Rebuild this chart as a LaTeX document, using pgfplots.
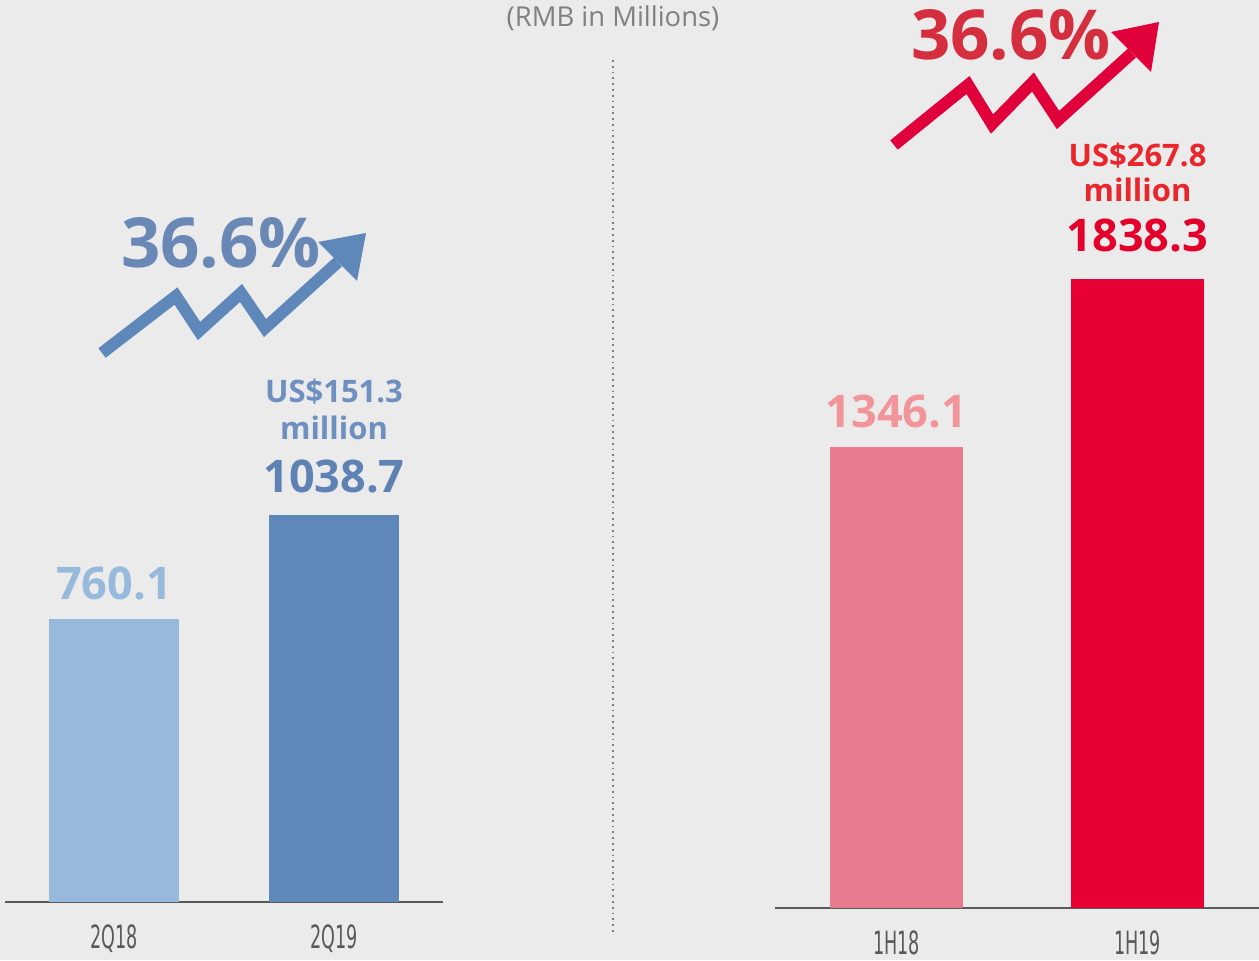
\documentclass[border=0pt]{standalone}
\usepackage{fontspec}
\setmainfont{Open Sans}
\newfontfamily\condfont[FakeStretch=0.55]{DejaVu Sans}
\usepackage{pgfplots}
\pgfplotsset{compat=1.18}
\definecolor{bg}{HTML}{EBEBEB}
\definecolor{b1}{HTML}{97B9DC}
\definecolor{b2}{HTML}{5F88BA}
\definecolor{r1}{HTML}{E87A90}
\definecolor{r2}{HTML}{E60033}
\definecolor{tickgray}{HTML}{595959}
\definecolor{axgray}{HTML}{595959}
\definecolor{bluetxt}{HTML}{5F82B4}
\definecolor{bluetxtl}{HTML}{6E90C0}
\definecolor{bluepct}{HTML}{6A88B6}
\definecolor{redpct}{HTML}{D42E3F}
\definecolor{redarrow}{HTML}{E0003A}
\definecolor{pinktxt}{HTML}{F2959A}
\definecolor{redtxt}{HTML}{E3002B}
\definecolor{redtxtl}{HTML}{E8262C}
\definecolor{subgray}{HTML}{808080}
\pgfplotsset{
  barax/.style={
    scale only axis,
    axis x line=bottom, axis y line=none,
    x axis line style={-, draw=axgray, line width=1.2pt},
    ybar, bar width=#1,
    enlargelimits=false, ymin=0,
    xtick={0,1}, major tick length=0pt,
    xticklabel style={font=\condfont\fontsize{16pt}{18pt}\selectfont, text=tickgray, yshift=-8pt},
    clip=false,
  }
}
\begin{document}
\begin{tikzpicture}
\begin{scope}[x=0.5pt,y=-0.5pt,yshift=480pt]
\fill[bg] (0,0) rectangle (1259,960);
\draw[subgray, line width=0.9pt, dotted] (613,60) -- (613,935);
\node[text=subgray, font=\fontsize{13.7pt}{16pt}\selectfont] at (613,18) {(RMB in Millions)};
% blue arrow
\draw[b2, line width=6pt, line join=miter, line cap=butt] (102,353) -- (176,296) -- (199,331) -- (241,293) -- (265,328) -- (338,262);
\fill[b2] (318,242) -- (366,233) -- (357,281) -- cycle;
\node[text=bluepct, font=\bfseries\fontsize{34.5pt}{40pt}\selectfont] at (221,243) {36.6\%};
% red arrow
\draw[redarrow, line width=6pt, line join=miter, line cap=butt] (894,145) -- (968,85) -- (992,124) -- (1033,82) -- (1058,120) -- (1132,53);
\fill[redarrow] (1111,32) -- (1159,22) -- (1151,72) -- cycle;
\node[text=redpct, font=\bfseries\fontsize{34.5pt}{40pt}\selectfont] at (1011,35) {36.6\%};
\end{scope}

\begin{axis}[barax=65pt, at={(2.5pt,29pt)}, anchor=south west,
  width=219pt, height=421pt,
  xmin=-0.4955, xmax=1.4955, ymax=2260.4,
  xticklabels={2Q18,2Q19}]
\addplot[fill=b1, draw=none, bar shift=0pt] coordinates {(0,760.1)};
\addplot[fill=b2, draw=none, bar shift=0pt] coordinates {(1,1038.7)};
\node[text=b1, font=\bfseries\fontsize{22.5pt}{26pt}\selectfont, yshift=17.5pt] at (axis cs:0,760.1) {760.1};
\node[text=bluetxt, font=\bfseries\fontsize{22.5pt}{26pt}\selectfont, yshift=19.5pt] at (axis cs:1,1038.7) {1038.7};
\node[text=bluetxtl, font=\bfseries\fontsize{15.5pt}{18pt}\selectfont, yshift=43.5pt] at (axis cs:1,1038.7) {million};
\node[text=bluetxtl, font=\bfseries\fontsize{15.5pt}{18pt}\selectfont, yshift=61.5pt] at (axis cs:1,1038.7) {US\$151.3};
\end{axis}

\begin{axis}[barax=66.5pt, at={(387.5pt,26pt)}, anchor=south west,
  width=242pt, height=424pt,
  xmin=-0.504, xmax=1.504, ymax=2476.6,
  xticklabels={1H18,1H19}]
\addplot[fill=r1, draw=none, bar shift=0pt] coordinates {(0,1346.1)};
\addplot[fill=r2, draw=none, bar shift=0pt] coordinates {(1,1838.3)};
\node[text=pinktxt, font=\bfseries\fontsize{22.5pt}{26pt}\selectfont, yshift=18pt] at (axis cs:0,1346.1) {1346.1};
\node[text=redtxt, font=\bfseries\fontsize{22.5pt}{26pt}\selectfont, yshift=21.5pt] at (axis cs:1,1838.3) {1838.3};
\node[text=redtxtl, font=\bfseries\fontsize{15.5pt}{18pt}\selectfont, yshift=44.5pt] at (axis cs:1,1838.3) {million};
\node[text=redtxtl, font=\bfseries\fontsize{15.5pt}{18pt}\selectfont, yshift=61.5pt] at (axis cs:1,1838.3) {US\$267.8};
\end{axis}
\pgfresetboundingbox
\path (0,0) rectangle (629.5pt,480pt);
\end{tikzpicture}
\end{document}
